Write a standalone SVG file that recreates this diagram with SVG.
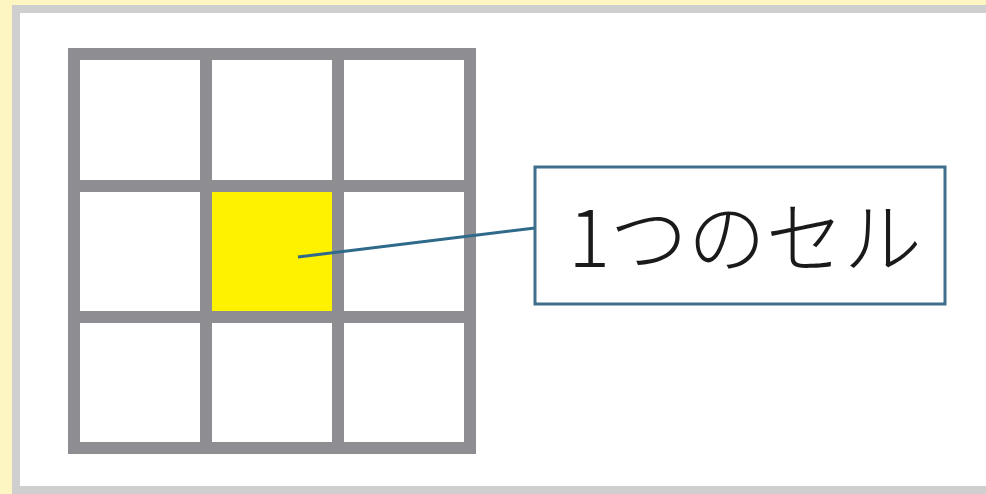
<svg xmlns="http://www.w3.org/2000/svg" width="986" height="494" viewBox="0 0 986 494">
  <style>
    .grid { fill: none; stroke: #8e8e92; stroke-width: 12; }
    .conn { stroke: #2f6a8a; stroke-width: 3; fill: none; }
    .label-box { fill: #ffffff; stroke: #3e6f8b; stroke-width: 3; }
    .label { font-family: "Noto Sans CJK JP", "Noto Sans", sans-serif; font-size: 78px; font-weight: 300; fill: #1a1a1a; }
  </style>
  <rect x="0" y="0" width="986" height="494" fill="#fdf6c3"/>
  <rect x="16" y="9" width="990" height="481" fill="#ffffff" stroke="#cfcfcf" stroke-width="8"/>
  <g id="grid">
    <rect x="212" y="186" width="120" height="131" fill="#fff200"/>
    <rect class="grid" x="74" y="54" width="396" height="394"/>
    <line class="grid" x1="206" y1="54" x2="206" y2="448"/>
    <line class="grid" x1="338" y1="54" x2="338" y2="448"/>
    <line class="grid" x1="74" y1="186" x2="470" y2="186"/>
    <line class="grid" x1="74" y1="317" x2="470" y2="317"/>
  </g>
  <g id="connectors">
    <line class="conn" x1="298" y1="257" x2="535" y2="228"/>
  </g>
  <g id="label">
    <rect class="label-box" x="535" y="167" width="410" height="137"/>
    <text class="label" x="745" y="267" text-anchor="middle">1つのセル</text>
  </g>
</svg>
